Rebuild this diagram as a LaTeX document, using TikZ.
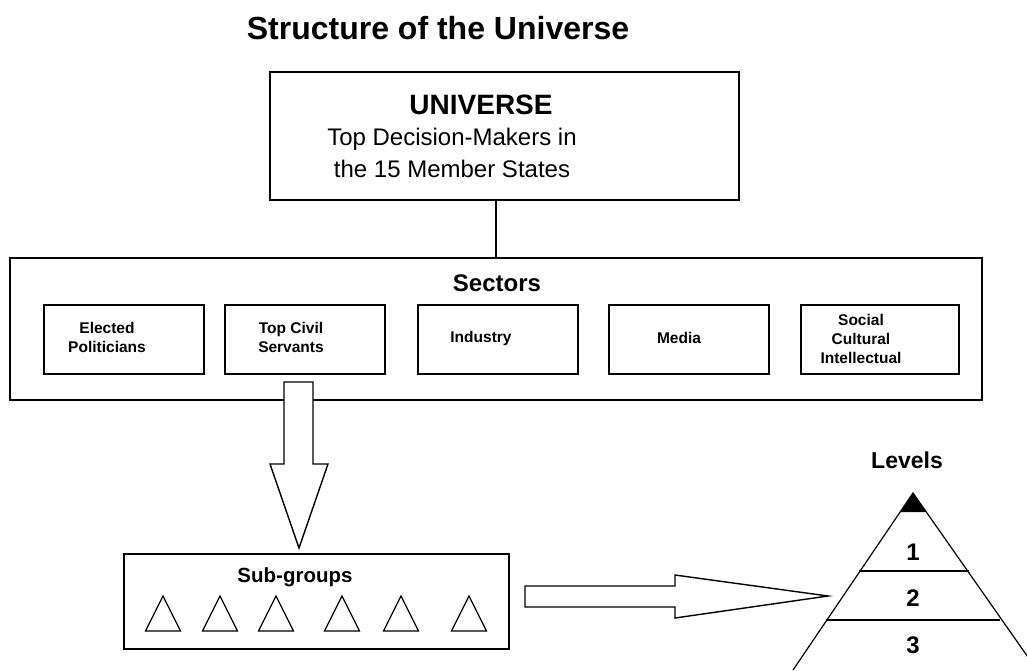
\documentclass[tikz,border=0pt]{standalone}
\usepackage{fontspec}
\setmainfont{Liberation Sans}
\begin{document}
\begin{tikzpicture}[x=1pt,y=-1pt,
  box/.style={draw=black,line width=1.4pt,fill=white,inner sep=0pt,minimum width=160pt,minimum height=69pt},
  lbl/.style={font=\bfseries\fontsize{15.5}{19}\selectfont,align=center,inner sep=0pt},
  big/.style={font=\bfseries\fontsize{24}{28}\selectfont,inner sep=0pt},
  tri/.style={draw=black,line width=1.2pt,fill=white},
  blk/.style={draw=black,line width=1.4pt,fill=white,line join=miter}]
\useasboundingbox (0,0) rectangle (1027,670);
\clip (0,0) rectangle (1027,670);
% title
\node[font=\bfseries\fontsize{32}{36}\selectfont,inner sep=0pt] (title) at (438,28) {Structure of the Universe};
% universe box
\node[draw=black,line width=1.4pt,minimum width=469pt,minimum height=128pt,inner sep=0pt] (univ) at (504.5,136) {};
\node[font=\bfseries\fontsize{28}{32}\selectfont,inner sep=0pt] (univt) at (481,105) {UNIVERSE};
\node[font=\fontsize{24}{32}\selectfont,align=center,inner sep=0pt] (univs) at (452,153) {Top Decision-Makers in\\the 15 Member States};
% sectors
\node[draw=black,line width=1.4pt,minimum width=972pt,minimum height=142pt,inner sep=0pt] (sect) at (496,329) {};
\coordinate (univb) at (496,200);
\draw[line width=1.2pt] (univb) -- (univb |- sect.north);
\node[big] (sectt) at (497,283) {Sectors};
\node[box] (b1) at (124,339.5) {};
\node[box] (b2) at (305,339.5) {};
\node[box] (b3) at (498,339.5) {};
\node[box] (b4) at (689,339.5) {};
\node[box,minimum width=158pt] (b5) at (880,339.5) {};
\node[lbl] (t1) at (107,337) {Elected\\Politicians};
\node[lbl] (t2) at (291,337) {Top Civil\\Servants};
\node[lbl] (t3) at (481,338) {Industry};
\node[lbl] (t4) at (679,338) {Media};
\node[lbl] (t5) at (861,339) {Social\\Cultural\\Intellectual};
% down block arrow
\draw[blk] (284,382) -- (284,464) -- (270,464) -- (299,548) -- (328,464) -- (313,464) -- (313,382) -- cycle;
% sub-groups
\node[draw=black,line width=1.4pt,minimum width=385pt,minimum height=95pt,inner sep=0pt] (sub) at (316.5,601.5) {};
\node[font=\bfseries\fontsize{20.5}{24}\selectfont,inner sep=0pt] (subt) at (295,577) {Sub-groups};
\foreach \cx in {163,220,276,342,401,469}{
  \draw[tri] (\cx-17.5,631) -- (\cx,596) -- (\cx+17.5,631) -- cycle;
}
% right block arrow
\draw[blk] (525,586) -- (675,586) -- (675,575) -- (828,596) -- (675,618) -- (675,607) -- (525,607) -- cycle;
% pyramid
\node[font=\bfseries\fontsize{23}{27}\selectfont,inner sep=0pt] (lev) at (907,460) {Levels};
\coordinate (apex) at (913,493);
\draw[line width=1.2pt] (793,670) -- (apex) -- (1037,670);
\fill[black] (apex) -- (900,512) -- (926,512) -- cycle;
\draw[line width=1.2pt] (859,571) -- (969,571);
\draw[line width=1.2pt] (826,620) -- (1000,620);
\node[big] (l1) at (913,552) {1};
\node[big] (l2) at (913,598) {2};
\node[big] (l3) at (913,645) {3};
\end{tikzpicture}
\end{document}
